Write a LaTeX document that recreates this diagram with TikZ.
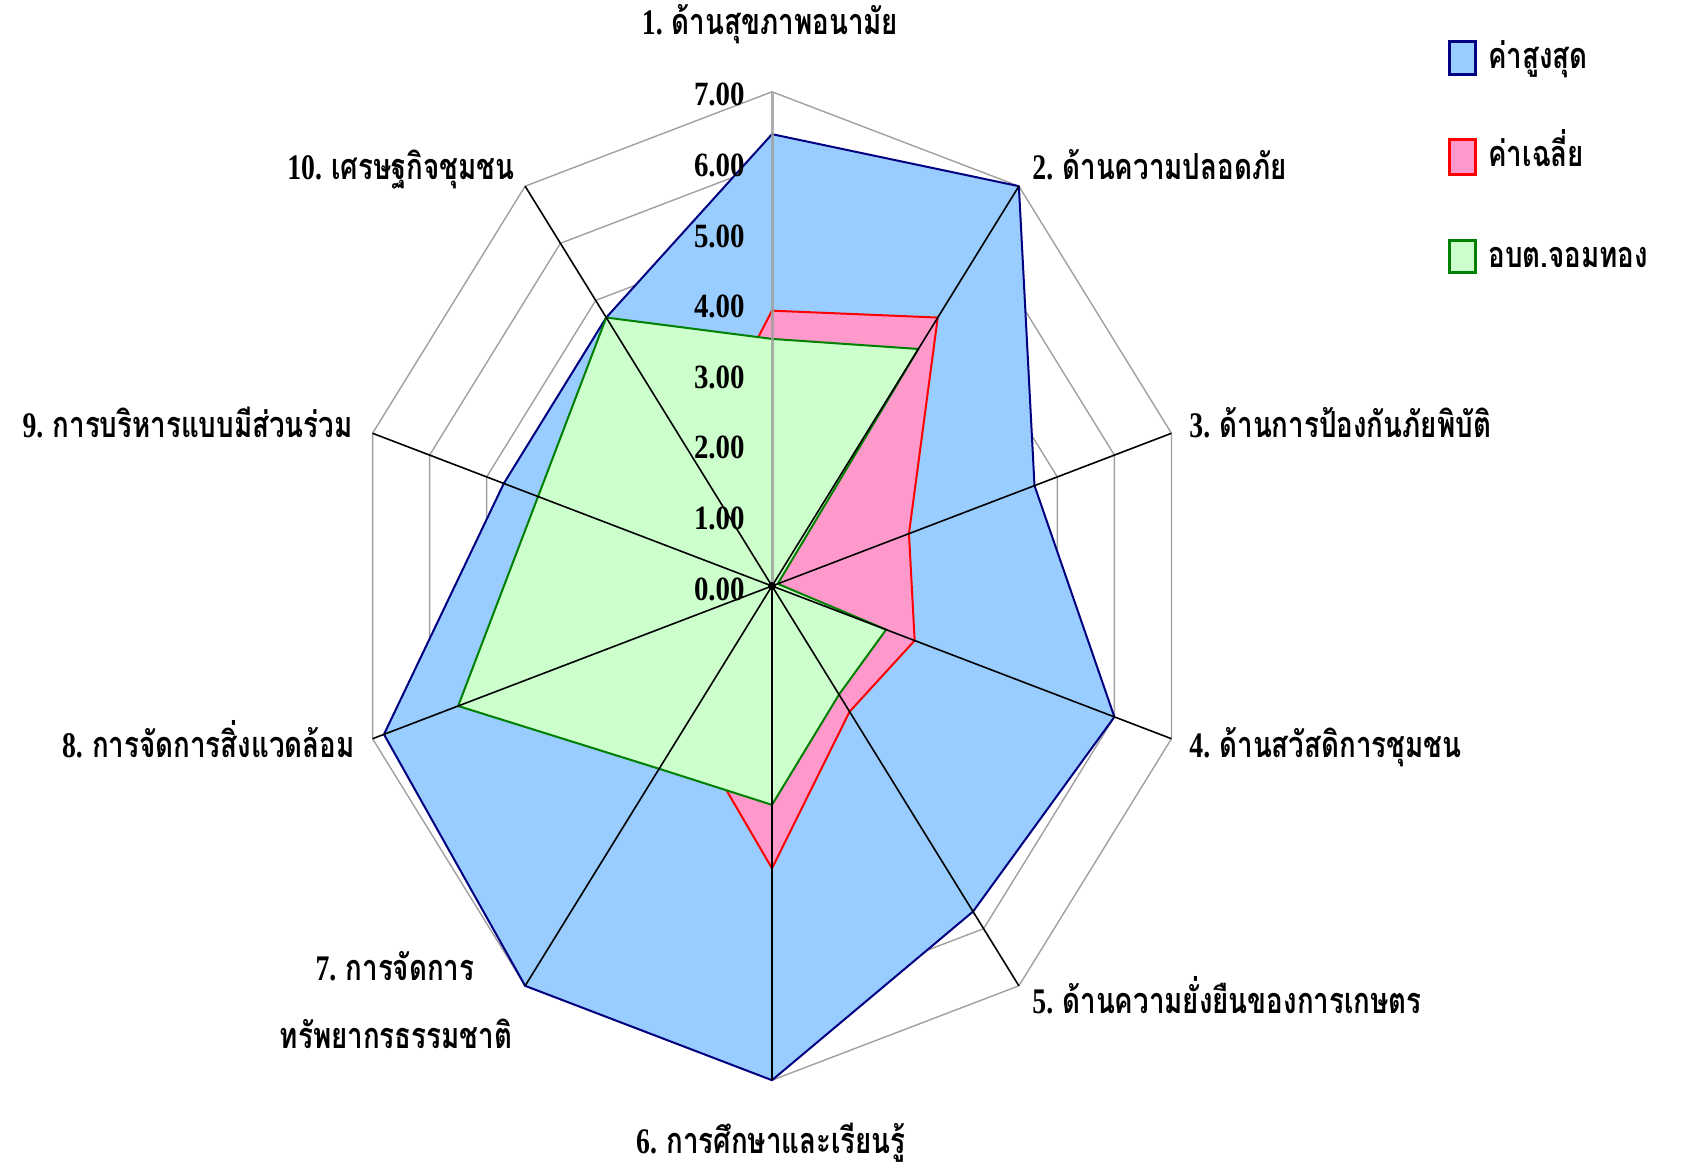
\documentclass[tikz,border=0pt]{standalone}
\usepackage{fontspec}
\usepackage{graphicx}
\setmainfont{Liberation Serif}
\newfontfamily\thaifont[Script=Thai]{Loma}
\definecolor{bfill}{HTML}{99CCFF}
\definecolor{bedge}{HTML}{000080}
\definecolor{pfill}{HTML}{FF99CC}
\definecolor{pedge}{HTML}{FF0000}
\definecolor{gfill}{HTML}{CCFFCC}
\definecolor{gedge}{HTML}{008000}
\definecolor{gridc}{HTML}{A0A0A0}
\newcommand\lab[1]{\scalebox{0.85}[1]{#1}}
\newcommand\tlab[2]{\scalebox{0.77}[1]{\rmfamily\bfseries #1\thaifont\bfseries #2}}
\tikzset{
  lbl/.style={inner sep=0pt, font=\thaifont\bfseries\fontsize{18}{20}\selectfont},
  tick/.style={inner sep=0pt, font=\bfseries\fontsize{17}{20}\selectfont},
  gridline/.style={draw=gridc, line width=0.7pt},
  spoke/.style={draw=black, line width=0.8pt},
  bluepoly/.style={fill=bfill, draw=bedge, line width=1pt, line join=round},
  pinkpoly/.style={fill=pfill, draw=pedge, line width=1pt, line join=round},
  greenpoly/.style={fill=gfill, draw=gedge, line width=1pt, line join=round},
}
\begin{document}
\begin{tikzpicture}[x=0.5pt,y=-0.5pt]
\useasboundingbox (0,0) rectangle (1681,1170);
\def\cx{772}\def\cy{586}\def\ux{60}\def\uy{70.6}
% data points
\foreach \v [count=\k] in {6.4,7,4.6,6,5.7,7,7,6.8,4.7,4.7}
  \coordinate (b\k) at ({\cx+\ux*\v*sin(36*(\k-1))},{\cy-\uy*\v*cos(36*(\k-1))});
\foreach \v [count=\k] in {3.9,4.7,2.4,2.5,2.2,4.0,2.4,2.0,2.0,2.2}
  \coordinate (p\k) at ({\cx+\ux*\v*sin(36*(\k-1))},{\cy-\uy*\v*cos(36*(\k-1))});
\foreach \v [count=\k] in {3.5,4.15,0.1,2.0,1.9,3.1,3.2,5.5,4.1,4.7}
  \coordinate (q\k) at ({\cx+\ux*\v*sin(36*(\k-1))},{\cy-\uy*\v*cos(36*(\k-1))});
\foreach \k in {1,...,10}
  \coordinate (e\k) at ({\cx+\ux*7*sin(36*(\k-1))},{\cy-\uy*7*cos(36*(\k-1))});
\coordinate (c) at (\cx,\cy);
% grid
\foreach \l in {1,...,7}
  \draw[gridline] ({\cx},{\cy-\uy*\l})
    \foreach \k in {1,...,9}{ -- ({\cx+\ux*\l*sin(36*\k)},{\cy-\uy*\l*cos(36*\k)})} -- cycle;
% series
\path[bluepoly] (b1)--(b2)--(b3)--(b4)--(b5)--(b6)--(b7)--(b8)--(b9)--(b10)--cycle;
\path[pinkpoly] (p1)--(p2)--(p3)--(p4)--(p5)--(p6)--(p7)--(p8)--(p9)--(p10)--cycle;
\path[greenpoly] (q1)--(q2)--(q3)--(q4)--(q5)--(q6)--(q7)--(q8)--(q9)--(q10)--cycle;
% spokes
\foreach \k in {2,...,10} \draw[spoke] (c) -- (e\k);
\draw[draw=gridc, line width=1.5pt, opacity=0.85] (c) -- (e1);
\fill (c) circle (4);
% tick labels
\foreach \l in {0,...,7}
  \node[tick, anchor=east] (t\l) at (745,{\cy-\uy*\l+3}) {\lab{\l.00}};
% axis labels
\node[lbl, anchor=base] (l1) at (770,35) {\tlab{1. }{ด้านสุขภาพอนามัย}};
\node[lbl, anchor=base west] (l2) at (1032,180) {\tlab{2. }{ด้านความปลอดภัย}};
\node[lbl, anchor=base west] (l3) at (1189,438) {\tlab{3. }{ด้านการป้องกันภัยพิบัติ}};
\node[lbl, anchor=base west] (l4) at (1189,757) {\tlab{4. }{ด้านสวัสดิการชุมชน}};
\node[lbl, anchor=base west] (l5) at (1032,1013) {\tlab{5. }{ด้านความยั่งยืนของการเกษตร}};
\node[lbl, anchor=base] (l6) at (771,1153) {\tlab{6. }{การศึกษาและเรียนรู้}};
\node[lbl, anchor=base] (l7a) at (395,980) {\tlab{7. }{การจัดการ}};
\node[lbl, anchor=base] (l7b) at (396,1048) {\tlab{}{ทรัพยากรธรรมชาติ}};
\node[lbl, anchor=base east] (l8) at (355,757) {\tlab{8. }{การจัดการสิ่งแวดล้อม}};
\node[lbl, anchor=base east] (l9) at (353,438) {\tlab{9. }{การบริหารแบบมีส่วนร่วม}};
\node[lbl, anchor=base east] (l10) at (515,180) {\tlab{10. }{เศรษฐกิจชุมชน}};
% legend
\draw[fill=bfill, draw=bedge, line width=1.5pt] (1449,42) rectangle (1475,75);
\draw[fill=pfill, draw=pedge, line width=1.5pt] (1449,140) rectangle (1475,175);
\draw[fill=gfill, draw=gedge, line width=1.5pt] (1449,241) rectangle (1475,273);
\node[lbl, anchor=base west] (g1) at (1488,69) {\tlab{}{ค่าสูงสุด}};
\node[lbl, anchor=base west] (g2) at (1488,167) {\tlab{}{ค่าเฉลี่ย}};
\node[lbl, anchor=base west] (g3) at (1488,268) {\tlab{}{อบต.จอมทอง}};
\end{tikzpicture}
\end{document}
